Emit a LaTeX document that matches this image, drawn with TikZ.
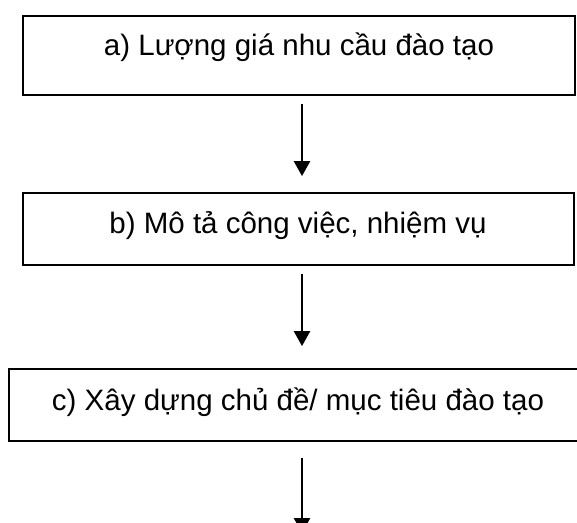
\documentclass[tikz,border=0pt]{standalone}
\usepackage{fontspec}
\setmainfont{Liberation Sans}
\usetikzlibrary{arrows.meta,calc}
\begin{document}
\begin{tikzpicture}[x=1pt,y=-1pt,
  stepbox/.style={draw=black,line width=1.8pt,rectangle,inner sep=0pt},
  lbl/.style={anchor=base,inner sep=0pt,font=\fontsize{29.5pt}{34pt}\selectfont},
  flow/.style={line width=2.5pt,-{Triangle[width=16pt,length=15pt]}}]
\useasboundingbox (0,0) rectangle (577,522);
\clip (0,0) rectangle (577,522);
\node[stepbox,minimum width=552pt,minimum height=79pt] (a) at (299,55.5) {};
\node[stepbox,minimum width=551pt,minimum height=72pt] (b) at (298.5,229) {};
\node[stepbox,minimum width=580pt,minimum height=72pt] (c) at (299,405) {};
\node[lbl] (ta) at (299,55) {a) Lượng giá nhu cầu đào tạo};
\node[lbl] (tb) at (298,233) {b) Mô tả công việc, nhiệm vụ};
\node[lbl] (tc) at (298,410) {c) Xây dựng chủ đề/ mục tiêu đào tạo};
\coordinate (d) at (302,533);
\draw[flow,shorten <=8pt,shorten >=16pt] ([xshift=3pt]a.south) -- ([xshift=3.5pt]b.north);
\draw[flow,shorten <=8pt,shorten >=22pt] ([xshift=3.5pt]b.south) -- ([xshift=3pt]c.north);
\draw[flow,shorten <=16pt] ([xshift=3pt]c.south) -- (d);
\end{tikzpicture}
\end{document}
